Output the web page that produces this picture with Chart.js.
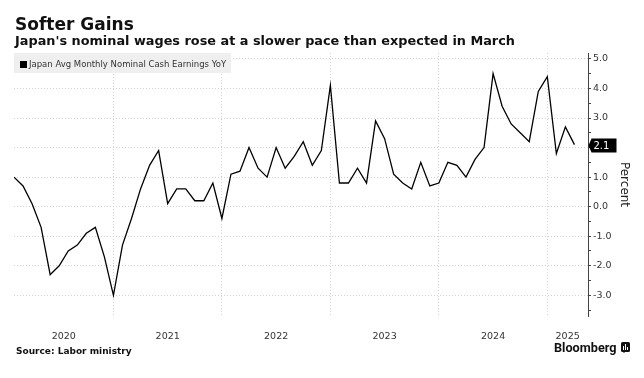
<!DOCTYPE html>
<html>
<head>
<meta charset="utf-8">
<script src="https://cdn.jsdelivr.net/npm/chart.js@4.4.1/dist/chart.umd.min.js"></script>
<style>
  html, body { margin:0; padding:0; background:#fff; width:644px; height:378px; overflow:hidden; }
  #wrap { position:relative; width:644px; height:378px; font-family:"DejaVu Sans", sans-serif; }
  #chart { position:absolute; left:0; top:0; }
  .t { position:absolute; white-space:nowrap; line-height:1; color:#111; }
  #title { left:15px; top:15.5px; font-size:17px; font-weight:bold; }
  #subtitle { left:15px; top:35px; font-size:12.85px; font-weight:bold; }
  #legend { position:absolute; left:14px; top:53px; width:217px; height:20px; background:#efefef; }
  #legend .sq { position:absolute; left:6px; top:8px; width:7px; height:7px; background:#000; }
  #legend .lt { position:absolute; left:15px; top:7px; font-size:8.5px; color:#333; white-space:nowrap; line-height:1; }
  #source { left:16px; top:347px; font-size:9px; font-weight:bold; }
  #brand { left:554px; top:342px; font-family:Roboto, sans-serif; font-size:12.7px; font-weight:bold; color:#111; }
  #logo { position:absolute; left:621px; top:342px; }
</style>
</head>
<body>
<div id="wrap">
  <canvas id="chart" width="644" height="378"></canvas>
  <div class="t" id="title">Softer Gains</div>
  <div class="t" id="subtitle">Japan's nominal wages rose at a slower pace than expected in March</div>
  <div id="legend"><div class="sq"></div><div class="lt">Japan Avg Monthly Nominal Cash Earnings YoY</div></div>
  <div class="t" id="source">Source: Labor ministry</div>
  <div class="t" id="brand">Bloomberg</div>
  <svg id="logo" width="9" height="11" viewBox="0 0 9 11">
    <rect x="0" y="0" width="9" height="10" rx="1.5" fill="#111"/>
    <path d="M2 10 L4 10 L3 11 Z" fill="#111"/>
    <rect x="2" y="4" width="1" height="4" fill="#fff"/>
    <rect x="4" y="2" width="1" height="6" fill="#fff"/>
    <rect x="6" y="5" width="1" height="3" fill="#fff"/>
  </svg>
</div>
<script>
// ---- data ----
const months = [
  '2020-01','2020-02','2020-03','2020-04','2020-05','2020-06','2020-07','2020-08','2020-09','2020-10','2020-11','2020-12',
  '2021-01','2021-02','2021-03','2021-04','2021-05','2021-06','2021-07','2021-08','2021-09','2021-10','2021-11','2021-12',
  '2022-01','2022-02','2022-03','2022-04','2022-05','2022-06','2022-07','2022-08','2022-09','2022-10','2022-11','2022-12',
  '2023-01','2023-02','2023-03','2023-04','2023-05','2023-06','2023-07','2023-08','2023-09','2023-10','2023-11','2023-12',
  '2024-01','2024-02','2024-03','2024-04','2024-05','2024-06','2024-07','2024-08','2024-09','2024-10','2024-11','2024-12',
  '2025-01','2025-02','2025-03'
];
const wageYoY = [
  1.0, 0.7, 0.1, -0.7, -2.3, -2.0, -1.5, -1.3, -0.9, -0.7, -1.7, -3.0,
  -1.3, -0.4, 0.6, 1.4, 1.9, 0.1, 0.6, 0.6, 0.2, 0.2, 0.8, -0.4,
  1.1, 1.2, 2.0, 1.3, 1.0, 2.0, 1.3, 1.7, 2.2, 1.4, 1.9, 4.1,
  0.8, 0.8, 1.3, 0.8, 2.9, 2.3, 1.1, 0.8, 0.6, 1.5, 0.7, 0.8,
  1.5, 1.4, 1.0, 1.6, 2.0, 4.5, 3.4, 2.8, 2.5, 2.2, 3.9, 4.4,
  1.8, 2.7, 2.1
];
const yearLabels = ['2020','2021','2022','2023','2024','2025'];
const seriesName = 'Japan Avg Monthly Nominal Cash Earnings YoY';

// ---- helpers ----
const BASE_YEAR = 2020;
// month-end position: end of Jan 2020 = 1
function monthPos(s) { const [y, m] = s.split('-').map(Number); return (y - BASE_YEAR) * 12 + m; }
const X_MIN = 1, X_MAX = 64.5;
const Y_MIN = -3.7, Y_MAX = 5.2, Y_STEP = 0.5;
const yearStarts = yearLabels.map(y => (Number(y) - BASE_YEAR) * 12);
const gridTicks = yearStarts.filter(v => v > X_MIN && v < X_MAX);
const labelTicks = yearStarts.map(s => (Math.max(s, X_MIN) + Math.min(s + 12, X_MAX)) / 2);

const points = months.map((m, i) => ({ x: monthPos(m), y: wageYoY[i] }));

const isWhole = v => Math.abs(v - Math.round(v)) < 1e-9;

const badgePlugin = {
  id: 'lastBadge',
  afterDraw(chart) {
    const ctx = chart.ctx;
    const ys = chart.scales.y;
    const last = wageYoY[wageYoY.length - 1];
    const py = Math.round(ys.getPixelForValue(last)) + 0.5;
    const x0 = chart.chartArea.right;
    ctx.save();
    ctx.fillStyle = '#000';
    ctx.beginPath();
    ctx.moveTo(x0 + 0.5, py);
    ctx.lineTo(x0 + 3.5, py - 7);
    ctx.lineTo(x0 + 28.5, py - 7);
    ctx.lineTo(x0 + 28.5, py + 7);
    ctx.lineTo(x0 + 3.5, py + 7);
    ctx.closePath();
    ctx.fill();
    ctx.fillStyle = '#fff';
    ctx.font = '10px "DejaVu Sans"';
    ctx.textBaseline = 'middle';
    ctx.textAlign = 'left';
    ctx.fillText(last.toFixed(1), x0 + 5.5, py + 0.5);
    ctx.restore();
  }
};

new Chart(document.getElementById('chart'), {
  type: 'line',
  data: {
    datasets: [{
      label: seriesName,
      data: points,
      borderColor: '#000',
      borderWidth: 1.3,
      pointRadius: 0,
      tension: 0,
      fill: false
    }]
  },
  options: {
    responsive: false,
    animation: false,
    devicePixelRatio: 1,
    layout: { padding: { left: 14, top: 53, right: 0, bottom: 0 } },
    plugins: { legend: { display: false }, tooltip: { enabled: false } },
    scales: {
      x: {
        type: 'linear',
        position: 'bottom',
        min: X_MIN,
        max: X_MAX,
        afterBuildTicks: s => {
          s.ticks = [...gridTicks, ...labelTicks].sort((a, b) => a - b).map(v => ({ value: v }));
        },
        afterFit: s => { s.height = 62; },
        ticks: {
          autoSkip: false,
          maxRotation: 0,
          padding: 15,
          color: '#333',
          font: { family: 'DejaVu Sans', size: 9.5 },
          callback: v => {
            const i = labelTicks.findIndex(l => Math.abs(l - v) < 1e-6);
            return i >= 0 ? yearLabels[i] : '';
          }
        },
        grid: {
          drawTicks: false,
          lineWidth: 1,
          color: c => (c.tick && gridTicks.some(g => Math.abs(g - c.tick.value) < 1e-6)) ? '#d2d2d2' : 'rgba(0,0,0,0)'
        },
        border: { display: false, dash: [1, 2] }
      },
      y: {
        type: 'linear',
        position: 'right',
        min: Y_MIN,
        max: Y_MAX,
        afterBuildTicks: s => {
          const t = [];
          for (let k = Math.ceil(Y_MIN / Y_STEP); k * Y_STEP <= Y_MAX + 1e-9; k++) {
            t.push({ value: Math.round(k * Y_STEP * 10) / 10 });
          }
          s.ticks = t;
        },
        afterFit: s => { s.width = 56; },
        ticks: {
          stepSize: Y_STEP,
          padding: 2,
          color: '#333',
          font: { family: 'DejaVu Sans', size: 9.5 },
          callback: v => (isWhole(v) ? Number(v).toFixed(1) : '')
        },
        grid: {
          drawTicks: true,
          tickLength: 3,
          tickColor: '#444',
          lineWidth: 1,
          color: c => (c.tick && isWhole(c.tick.value)) ? '#d2d2d2' : 'rgba(0,0,0,0)'
        },
        border: { display: true, color: '#444', width: 1, dash: [1, 2] },
        title: {
          display: true,
          text: 'Percent',
          color: '#222',
          font: { family: 'DejaVu Sans', size: 12 },
          padding: { top: 13, bottom: 0 }
        }
      }
    }
  },
  plugins: [badgePlugin]
});
</script>
</body>
</html>
